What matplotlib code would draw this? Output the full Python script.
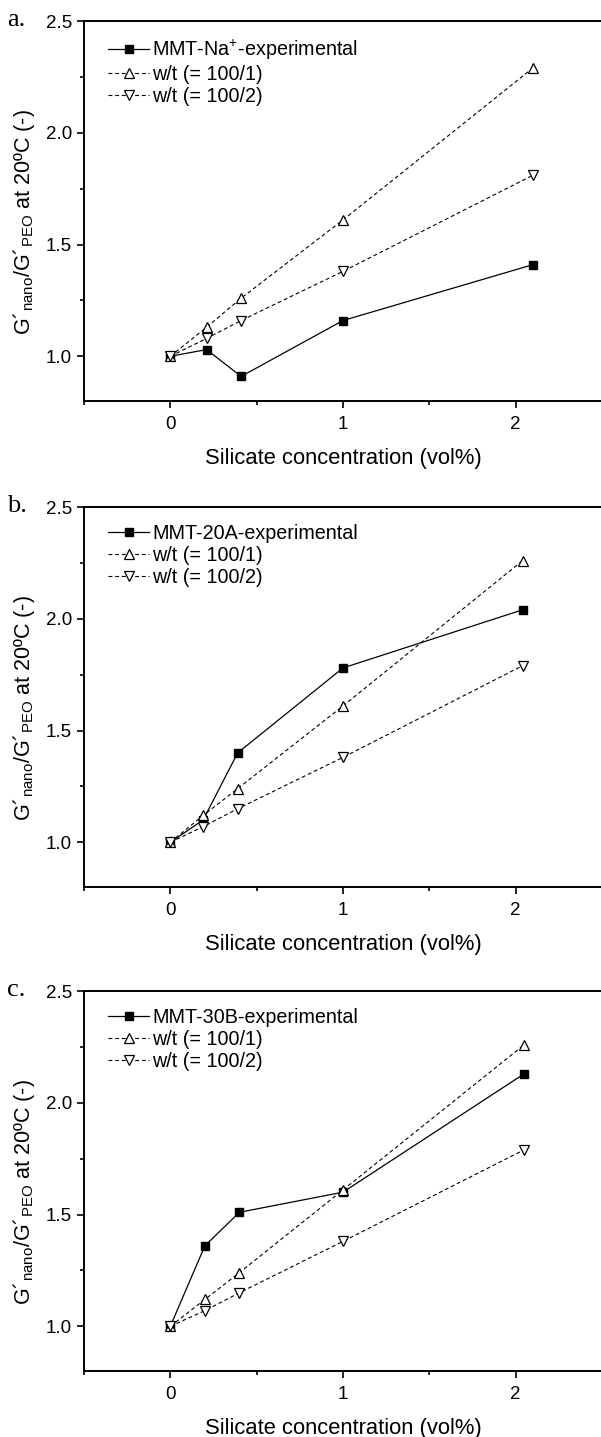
import numpy as np
import matplotlib
matplotlib.use("Agg")
import matplotlib.pyplot as plt
from matplotlib.ticker import MultipleLocator

plt.rcParams['font.family'] = ['Liberation Sans', 'DejaVu Sans']
plt.rcParams['mathtext.fontset'] = 'custom'
plt.rcParams['mathtext.rm'] = 'Liberation Sans'
plt.rcParams['mathtext.it'] = 'Liberation Sans:italic'

# panel data: silicate concentration (vol%) and G'nano/G'PEO
panel_letters = ['a.', 'b.', 'c.']
exp_labels = [r'MMT-Na$^{+}$-experimental', 'MMT-20A-experimental', 'MMT-30B-experimental']

x_a = [0, 0.21, 0.41, 1.0, 2.1]
exp_a = [1.0, 1.03, 0.91, 1.16, 1.41]
wt1_a = [1.0, 1.13, 1.26, 1.61, 2.29]
wt2_a = [1.0, 1.08, 1.16, 1.38, 1.81]

x_b = [0, 0.19, 0.39, 1.0, 2.04]
exp_b = [1.0, 1.10, 1.40, 1.78, 2.04]
wt1_b = [1.0, 1.12, 1.24, 1.61, 2.26]
wt2_b = [1.0, 1.07, 1.15, 1.38, 1.79]

x_c = [0, 0.2, 0.4, 1.0, 2.05]
exp_c = [1.0, 1.36, 1.51, 1.60, 2.13]
wt1_c = [1.0, 1.12, 1.24, 1.61, 2.26]
wt2_c = [1.0, 1.07, 1.15, 1.38, 1.79]

panels = [
    (x_a, exp_a, wt1_a, wt2_a),
    (x_b, exp_b, wt1_b, wt2_b),
    (x_c, exp_c, wt1_c, wt2_c),
]

fig = plt.figure(figsize=(6.01, 14.37), dpi=100)
W, H = 601.0, 1437.0
tops = [21, 507, 991]
ax_h = 380
ax_w = W - 84 + 1

for i, (x, ex, w1, w2) in enumerate(panels):
    ax = fig.add_axes([84 / W, 1 - (tops[i] + ax_h) / H, ax_w / W, ax_h / H])
    ax.plot(x, ex, 'k-', lw=0.9, marker='s', ms=5.5, mfc='k', mec='k',
            label=exp_labels[i])
    ax.plot(x, w1, color='k', ls=(0, (3.5, 2.5)), lw=0.8, marker='^', ms=7.5,
            mfc='white', mec='k', mew=0.9, label='w/t (= 100/1)')
    ax.plot(x, w2, color='k', ls=(0, (3.5, 2.5)), lw=0.8, marker='v', ms=7.5,
            mfc='white', mec='k', mew=0.9, label='w/t (= 100/2)')

    ax.set_xlim(-0.5, 2.5)
    ax.set_ylim(0.8, 2.5)
    ax.set_xticks([0, 1, 2])
    ax.xaxis.set_minor_locator(MultipleLocator(0.5))
    ax.set_yticks([1.0, 1.5, 2.0, 2.5])
    ax.set_yticklabels(['1.0', '1.5', '2.0', '2.5'])
    ax.yaxis.set_minor_locator(MultipleLocator(0.25))
    ax.tick_params(which='major', direction='out', length=5, width=1.2,
                   labelsize=13.5)
    ax.tick_params(axis='x', which='major', pad=5.8)
    ax.tick_params(axis='y', which='major', pad=3.5)
    ax.tick_params(which='minor', direction='out', length=3, width=1.2)
    ax.spines['right'].set_visible(False)
    for s in ['left', 'bottom', 'top']:
        ax.spines[s].set_linewidth(1.4)

    ax.set_xlabel('Silicate concentration (vol%)', fontsize=15.8, labelpad=10.5)
    ax.set_ylabel(r"G´$_{\mathrm{nano}}$/G´$_{\mathrm{PEO}}$ at 20ºC (-)",
                  fontsize=15.5)
    ax.yaxis.set_label_coords(-0.091, 0.47)

    ax.legend(loc='upper left', bbox_to_anchor=(24 / ax_w, 1 - 17 / ax_h),
              frameon=False, fontsize=14.2, handlelength=2.1,
              handletextpad=0.15, labelspacing=0.15, borderaxespad=0,
              borderpad=0)

    fig.text(7 / W, 1 - (tops[i] - 1) / H, panel_letters[i], fontsize=19,
             family=['Liberation Serif', 'DejaVu Serif'], va='center', ha='left')

fig.savefig('out.png', dpi=100)
